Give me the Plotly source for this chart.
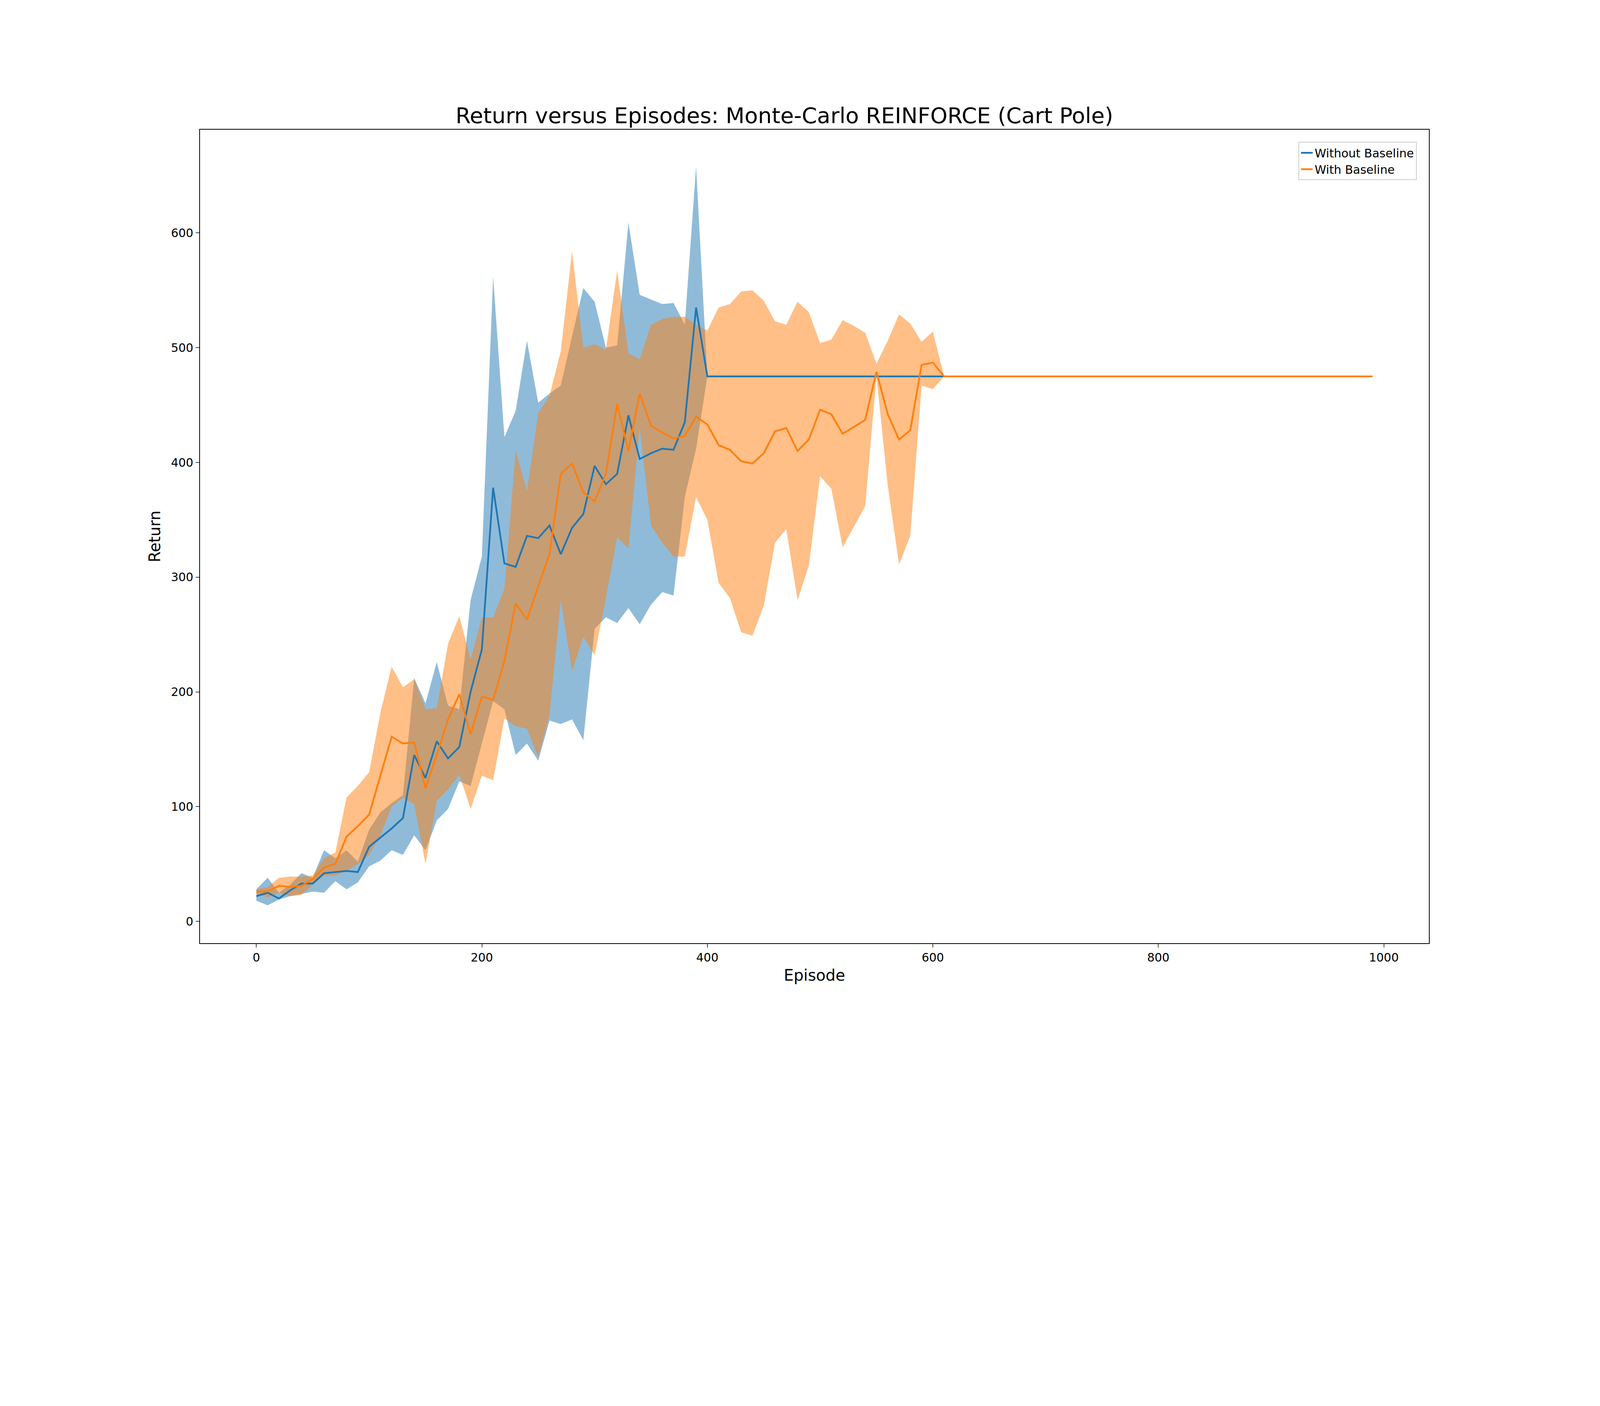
import plotly.graph_objects as go

ep = list(range(0, 1000, 10))
b_mean = [22,25,20,27,33,33,42,43,44,43,65,73,81,90,145,125,157,142,152,200,237,378,312,309,336,334,345,320,343,355,397,381,390,441,403,408,412,411,435,535,475]
b_up = [28,38,25,32,42,38,62,55,62,52,80,95,103,110,212,190,226,188,185,280,318,562,422,445,506,452,460,467,510,552,540,500,502,609,546,542,538,539,520,658,475]
b_lo = [18,14,19,22,24,26,25,35,28,34,48,53,62,58,75,62,88,98,122,118,155,192,185,145,155,140,175,172,176,158,255,265,260,273,259,276,287,284,370,412,475]
o_mean = [26,26,31,30,31,37,47,50,74,83,93,127,161,155,156,116,145,176,198,163,196,193,227,277,263,292,320,390,399,374,366,390,451,410,460,432,426,421,423,440,433,415,411,401,399,408,427,430,410,420,446,442,425,431,437,479,442,420,428,485,487,475]
o_up = [28,30,38,39,39,40,55,60,108,118,130,182,222,204,211,185,186,242,266,228,265,265,290,410,375,443,458,497,584,500,503,498,567,495,490,520,525,527,527,520,515,535,538,549,550,541,523,520,540,531,504,507,524,519,513,486,506,529,521,505,514,475]
o_lo = [24,21,25,22,23,32,40,40,44,50,58,75,100,108,102,50,105,115,128,98,127,123,177,170,168,143,180,280,218,248,232,282,335,325,430,345,330,318,318,370,350,295,282,252,249,275,330,342,280,310,388,377,326,344,362,475,380,311,336,467,464,475]

def ext(a):
    return a + [475] * (len(ep) - len(a))

bm, om = ext(b_mean), ext(o_mean)
b_end = 62
bm = bm[:b_end]
BLUE, ORANGE = "#1f77b4", "#ff7f0e"

fig = go.Figure()
nb = len(b_up)
fig.add_trace(go.Scatter(x=ep[:nb] + ep[:nb][::-1], y=b_up + b_lo[::-1], fill="toself",
                         fillcolor="rgba(31,119,180,0.5)", line=dict(width=0), showlegend=False, hoverinfo="skip"))
no = len(o_up)
fig.add_trace(go.Scatter(x=ep[:no] + ep[:no][::-1], y=o_up + o_lo[::-1], fill="toself",
                         fillcolor="rgba(255,127,14,0.5)", line=dict(width=0), showlegend=False, hoverinfo="skip"))
fig.add_trace(go.Scatter(x=ep[:b_end], y=bm, mode="lines", name="Without Baseline", line=dict(color=BLUE, width=4.5)))
fig.add_trace(go.Scatter(x=ep, y=om, mode="lines", name="With Baseline", line=dict(color=ORANGE, width=4.5)))

axis = dict(showgrid=False, zeroline=False, showline=True, mirror=True, linecolor="black", linewidth=2.2,
            ticks="outside", ticklen=9, tickwidth=2.2, tickfont=dict(size=30, color="black"))
fig.update_layout(
    width=4000, height=2666, plot_bgcolor="white", paper_bgcolor="white",
    font=dict(family="DejaVu Sans", color="black"),
    margin=dict(l=504, r=350, t=324, b=259),
    title=dict(text="Return versus Episodes: Monte-Carlo REINFORCE (Cart Pole)", x=0.5, xanchor="center",
               y=0.885, yanchor="bottom", font=dict(size=56)),
    xaxis=dict(axis, range=[-50, 1040], tickvals=[0, 200, 400, 600, 800, 1000],
               title=dict(text="Episode", font=dict(size=40))),
    yaxis=dict(axis, range=[-19, 690], tickvals=[0, 100, 200, 300, 400, 500, 600],
               title=dict(text="Return", font=dict(size=40))),
    legend=dict(x=0.99, y=0.985, xanchor="right", yanchor="top", bgcolor="white",
                bordercolor="#cccccc", borderwidth=2, font=dict(size=30)),
)
fig.write_html("out.html")
